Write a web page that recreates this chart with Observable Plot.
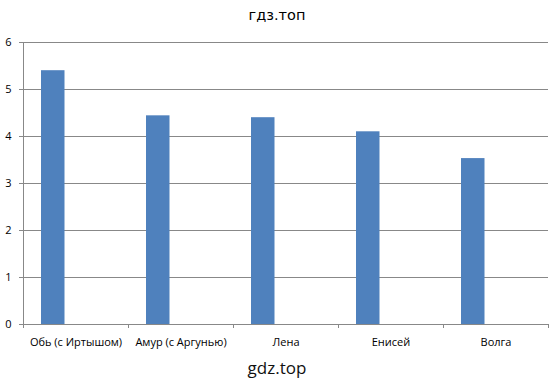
<!DOCTYPE html>
<html>
<head>
<meta charset="utf-8">
<script src="https://cdn.jsdelivr.net/npm/d3@7"></script>
<script src="https://cdn.jsdelivr.net/npm/@observablehq/plot@0.6"></script>
<style>
  html, body { margin: 0; padding: 0; background: #fff; }
  #wrap { width: 554px; }
  .title { height: 30px; line-height: 31px; text-align: center; font-family: "DejaVu Sans", sans-serif; font-size: 14.5px; color: #000; }
  .caption { height: 28px; line-height: 26px; text-align: center; font-family: "Open Sans", sans-serif; font-size: 17px; color: #111; }
</style>
</head>
<body>
<div id="wrap">
  <div class="title">гдз.топ</div>
  <div id="chart"></div>
  <div class="caption">gdz.top</div>
</div>
<script>
const categories = ["Обь (с Иртышом)", "Амур (с Аргунью)", "Лена", "Енисей", "Волга"];
const values = [5.40, 4.44, 4.40, 4.10, 3.53];
const yTicks = [0, 1, 2, 3, 4, 5, 6];

const data = categories.map((c, i) => ({category: c, index: i, value: values[i]}));
const bounds = d3.range(0, categories.length + 1);
const centers = categories.map((c, i) => i + 0.5);

const chart = Plot.plot({
  width: 554,
  height: 325,
  marginTop: 12,
  marginBottom: 31,
  marginLeft: 23,
  marginRight: 6,
  style: {fontFamily: "'Open Sans', sans-serif", fontSize: "11px", color: "#000"},
  x: {type: "linear", domain: [0, categories.length]},
  y: {domain: [0, 6]},
  marks: [
    Plot.gridY(yTicks, {stroke: "#888", strokeOpacity: 1}),
    Plot.rectY(data, {x1: "index", x2: d => d.index + 1, y: "value", fill: "#4F81BD", insetLeft: 18, insetRight: 63.5}),
    Plot.axisY(yTicks, {tickSize: 4, tickPadding: 8, stroke: "#888", tickFormat: d3.format("d"), label: null, fontSize: 11}),
    Plot.axisX(bounds, {tickSize: 4, tickFormat: () => "", stroke: "#888", label: null}),
    Plot.axisX(centers, {tickSize: 0, tickPadding: 14, tickFormat: d => categories[Math.round(d - 0.5)], label: null, fontSize: 11}),
    Plot.ruleX([0], {stroke: "#888"}),
    Plot.ruleY([0], {stroke: "#888"})
  ]
});
document.getElementById("chart").appendChild(chart);
</script>
</body>
</html>
